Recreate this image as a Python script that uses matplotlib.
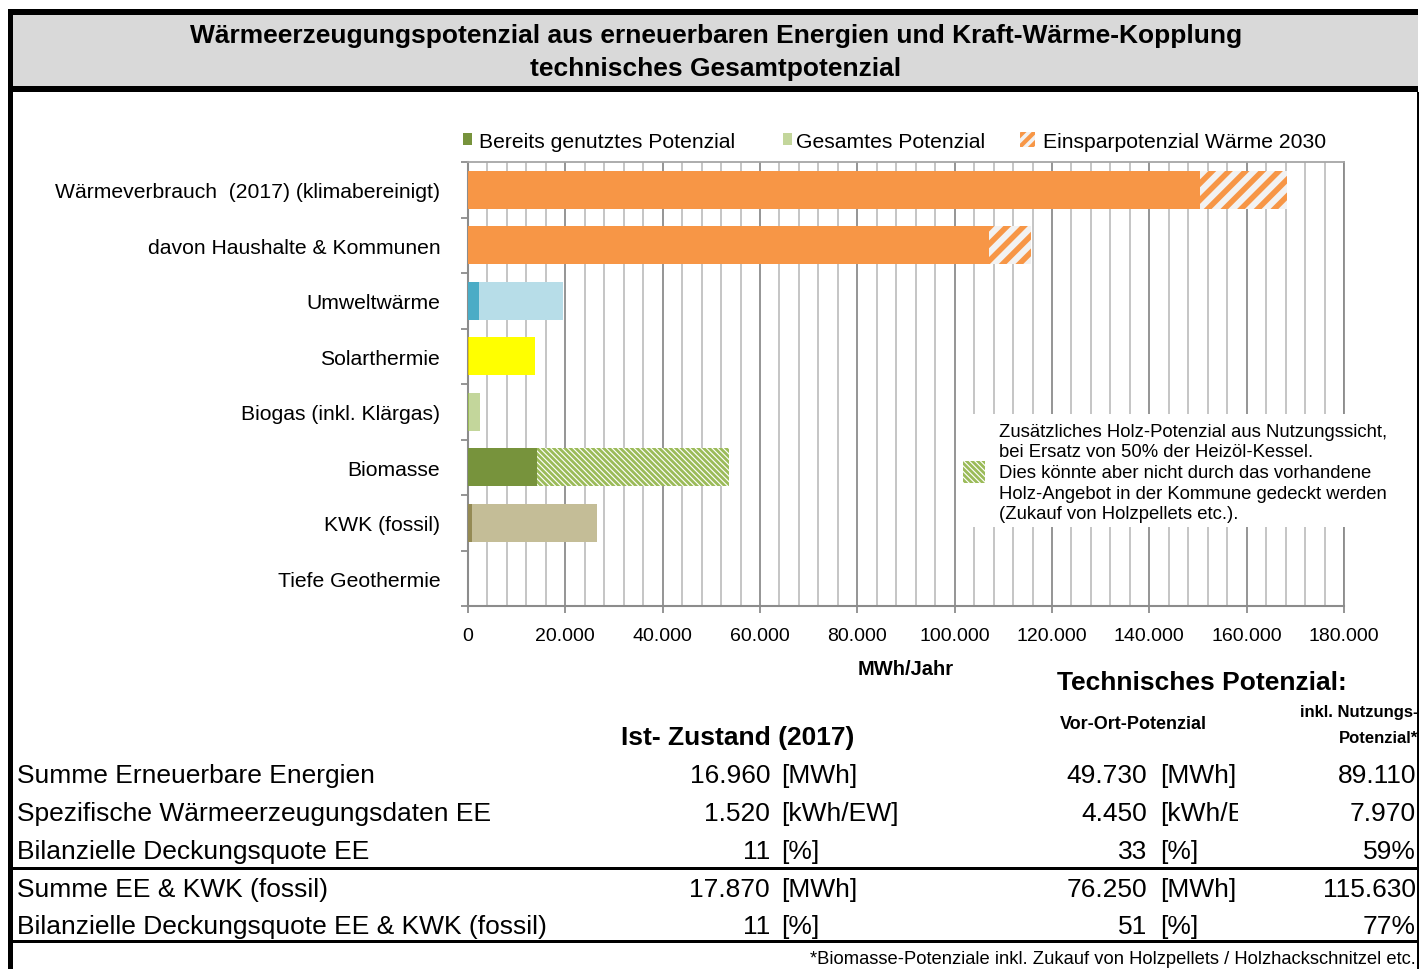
import matplotlib
matplotlib.use('Agg')
import matplotlib.pyplot as plt
from matplotlib.patches import Patch, Rectangle
from matplotlib.transforms import Bbox, TransformedBbox
import numpy as np

plt.rcParams['font.family'] = ['Liberation Sans', 'DejaVu Sans']

# ---------------- data ----------------
categories = ["Wärmeverbrauch  (2017) (klimabereinigt)", "davon Haushalte & Kommunen",
              "Umweltwärme", "Solarthermie", "Biogas (inkl. Klärgas)", "Biomasse",
              "KWK (fossil)", "Tiefe Geothermie"]
used = [0, 0, 2200, 300, 260, 14200, 900, 0]          # Bereits genutztes Potenzial
total = [150500, 107000, 19600, 13700, 2450, 14200, 26520, 0]   # Gesamtes Potenzial
extra = [17700, 8700, 0, 0, 0, 39380, 0, 0]           # hatched additions

used_colors = ['#f79646', '#f79646', '#4bacc6', '#e6c700', '#9bbb59', '#77933c', '#948a54', '#77933c']
total_colors = ['#f79646', '#f79646', '#b7dde8', '#ffff00', '#c3d69b', '#c3d69b', '#c4bd97', '#c3d69b']
extra_face = ['#f2f2f2', '#f2f2f2', 'none', 'none', 'none', 'white', 'none', 'none']
extra_edge = ['#f79646', '#f79646', 'none', 'none', 'none', '#9bbb59', 'none', 'none']
extra_hatch = ['//', '//', '', '', '', '\\' * 6, '', '']
extra_hlw = [4.0, 4.0, 1, 1, 1, 2.0, 1, 1]

legend_labels = ["Bereits genutztes Potenzial", "Gesamtes Potenzial", "Einsparpotenzial Wärme 2030"]
xticks = list(range(0, 180001, 20000))

row_labels = ["Summe Erneuerbare Energien", "Spezifische Wärmeerzeugungsdaten EE",
              "Bilanzielle Deckungsquote EE", "Summe EE & KWK (fossil)",
              "Bilanzielle Deckungsquote EE & KWK (fossil)"]
ist_values = ["16.960", "1.520", "11", "17.870", "11"]
ist_units = ["[MWh]", "[kWh/EW]", "[%]", "[MWh]", "[%]"]
vor_values = ["49.730", "4.450", "33", "76.250", "51"]
vor_units = ["[MWh]", "[kWh/EW]", "[%]", "[MWh]", "[%]"]
nutz_values = ["89.110", "7.970", "59%", "115.630", "77%"]

W, H = 1420, 970
fig = plt.figure(figsize=(W / 100, H / 100), dpi=100)


def fx(x):
    return x / W


def fy(y):
    return 1 - y / H


def rect(x0, y0, x1, y1, color, z=5):
    fig.add_artist(Rectangle((fx(x0), fy(y1)), fx(x1) - fx(x0), fy(y0) - fy(y1),
                             transform=fig.transFigure, facecolor=color, edgecolor='none', zorder=z))


# ---------------- frame / title ----------------
rect(8, 10, 1418, 93, '#d9d9d9', z=1)
rect(8, 10, 1418, 16, 'black')
rect(8, 87, 1418, 93, 'black')
rect(8, 10, 13, 970, 'black')
rect(1417, 93, 1419, 970, 'black')
rect(8, 868, 1419, 871, 'black')
rect(8, 941, 1419, 944, 'black')

fig.text(fx(716), fy(36), "Wärmeerzeugungspotenzial aus erneuerbaren Energien und Kraft-Wärme-Kopplung",
         ha='center', va='center', fontsize=19, fontweight='bold')
fig.text(fx(716), fy(69), "technisches Gesamtpotenzial",
         ha='center', va='center', fontsize=19, fontweight='bold')

# ---------------- chart ----------------
ax = fig.add_axes([fx(468), fy(607), fx(1344) - fx(468), (607 - 163) / H])
ypos = np.arange(len(categories))
bh = 0.68

ax.barh(ypos, total, height=bh, color=total_colors, zorder=3, linewidth=0)
ax.barh(ypos, used, height=bh, color=used_colors, zorder=4, linewidth=0)
for i in range(len(categories)):
    if extra[i] > 0:
        with plt.rc_context({'hatch.linewidth': extra_hlw[i]}):
            bars = ax.barh(ypos[i], extra[i], left=total[i], height=bh, facecolor=extra_face[i],
                           edgecolor=extra_edge[i], hatch=extra_hatch[i], linewidth=0, zorder=4)
        for b in bars:
            if hasattr(b, 'set_hatch_linewidth'):
                b.set_hatch_linewidth(extra_hlw[i])

ax.set_xlim(0, 180000)
ax.set_ylim(len(categories) - 0.5, -0.5)
ax.set_xticks(xticks)
ax.set_xticklabels([f"{v:,.0f}".replace(',', '.') for v in xticks], fontsize=14)
ax.set_xticks(np.arange(0, 180001, 4000), minor=True)
ax.grid(axis='x', which='minor', color='#c0c0c0', linewidth=1.3, zorder=0)
ax.grid(axis='x', which='major', color='#8c8c8c', linewidth=1.3, zorder=0)
ax.set_axisbelow(True)
ax.tick_params(axis='x', which='major', direction='out', length=5, color='#8c8c8c', width=1.3, pad=10)
ax.tick_params(axis='x', which='minor', length=0)

ax.set_yticks(np.arange(-0.5, len(categories), 1))
ax.set_yticklabels([])
ax.set_yticks(ypos, categories, minor=True)
ax.tick_params(axis='y', which='major', direction='out', length=5, color='#8c8c8c', width=1.3)
ax.tick_params(axis='y', which='minor', length=0, pad=20, labelsize=15.2)

for s in ['left', 'bottom']:
    ax.spines[s].set_color('#8c8c8c')
    ax.spines[s].set_linewidth(1.5)
ax.spines['top'].set_color('#a6a6a6')
ax.spines['top'].set_linewidth(1.3)
ax.spines['right'].set_color('#8c8c8c')
ax.spines['right'].set_linewidth(1.3)

ax.set_xlabel("MWh/Jahr", fontsize=14.5, fontweight='bold', labelpad=11)

# legend (three separately placed entries)
with plt.rc_context({'hatch.linewidth': 3.0}):
    h3 = Patch(facecolor='#f2f2f2', edgecolor='#f79646', hatch='///', linewidth=0)
    leg_handles = [Patch(facecolor='#77933c', linewidth=0), Patch(facecolor='#c3d69b', linewidth=0), h3]
    leg_x = [463, 783, 1020]
    leg_hl = [0.43, 0.43, 0.72]
    leg_pad = [0.34, 0.2, 0.38]
    for h, lab, x, hl, tp in zip(leg_handles, legend_labels, leg_x, leg_hl, leg_pad):
        fig.legend([h], [lab], loc='center left', bbox_to_anchor=(fx(x), fy(142)),
                   frameon=False, fontsize=15.2, handlelength=hl, handleheight=hl,
                   handletextpad=tp, borderaxespad=0, borderpad=0)

# annotation (white box hiding the grid)
rect(957, 415, 1400, 528, 'white', z=5)
with plt.rc_context({'hatch.linewidth': 2.0}):
    sw = Rectangle((fx(963), fy(484)), fx(22), 22 / H, transform=fig.transFigure,
                   facecolor='white', edgecolor='#9bbb59', hatch='\\' * 6, linewidth=0, zorder=6)
fig.add_artist(sw)
fig.text(fx(999), fy(473.5),
         "Zusätzliches Holz-Potenzial aus Nutzungssicht,\nbei Ersatz von 50% der Heizöl-Kessel.\n"
         "Dies könnte aber nicht durch das vorhandene\nHolz-Angebot in der Kommune gedeckt werden\n"
         "(Zukauf von Holzpellets etc.).",
         ha='left', va='center', fontsize=13.3, linespacing=1.27, zorder=6)

# ---------------- table ----------------
fig.text(fx(1057), fy(683), "Technisches Potenzial:", ha='left', va='center', fontsize=19, fontweight='bold')
fig.text(fx(621), fy(738), "Ist- Zustand (2017)", ha='left', va='center', fontsize=19, fontweight='bold')
fig.text(fx(1060), fy(725), "Vor-Ort-Potenzial", ha='left', va='center', fontsize=13, fontweight='bold')
fig.text(fx(1418), fy(713), "inkl. Nutzungs-", ha='right', va='center', fontsize=12, fontweight='bold')
fig.text(fx(1418), fy(739), "Potenzial*", ha='right', va='center', fontsize=12, fontweight='bold')

row_y = [776, 814, 852, 890, 927]
clip = TransformedBbox(Bbox([[0, 0], [fx(1238), 1]]), fig.transFigure)
for i, y in enumerate(row_y):
    fig.text(fx(17), fy(y), row_labels[i], ha='left', va='center', fontsize=19)
    fig.text(fx(770), fy(y), ist_values[i], ha='right', va='center', fontsize=19)
    fig.text(fx(781), fy(y), ist_units[i], ha='left', va='center', fontsize=19)
    fig.text(fx(1147), fy(y), vor_values[i], ha='right', va='center', fontsize=19)
    t = fig.text(fx(1160), fy(y), vor_units[i], ha='left', va='center', fontsize=19)
    t.set_clip_box(clip)
    t.set_clip_on(True)
    fig.text(fx(1416), fy(y), nutz_values[i], ha='right', va='center', fontsize=19)

fig.text(fx(1416), fy(960), "*Biomasse-Potenziale inkl. Zukauf von Holzpellets / Holzhackschnitzel etc.",
         ha='right', va='center', fontsize=13.2)

fig.savefig('out.png', dpi=100)
